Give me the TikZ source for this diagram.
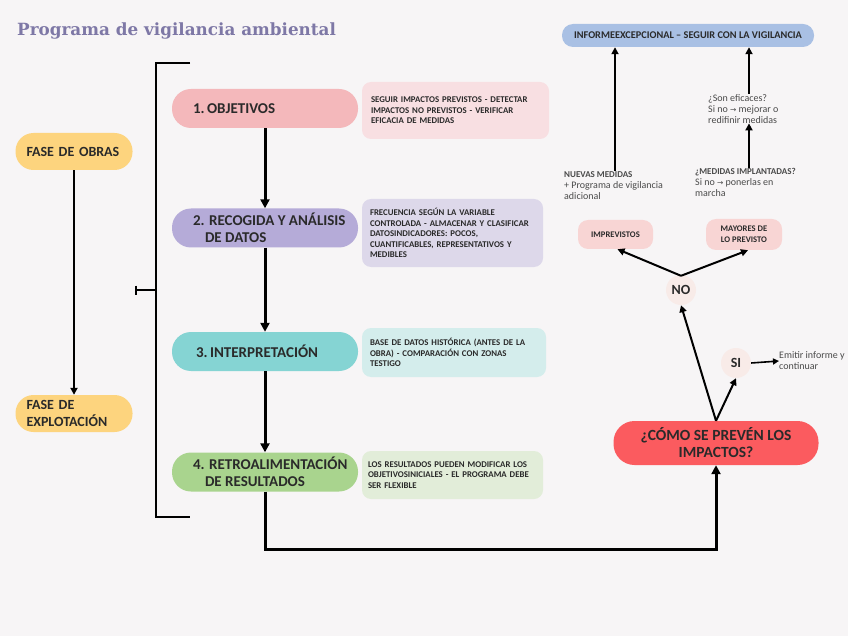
\documentclass[tikz,border=0pt]{standalone}
\usepackage{fontspec}
\setmainfont{Carlito}
\newfontfamily\titlefont{DejaVu Serif}
\newfontfamily\symfont{DejaVu Sans}
\usetikzlibrary{arrows.meta,calc}
\definecolor{bgc}{HTML}{F7F5F6}
\definecolor{titlec}{HTML}{7E78A6}
\definecolor{dark}{HTML}{2A2A2A}
\definecolor{yel}{HTML}{FDD47E}
\definecolor{pinkp}{HTML}{F4B8BB}
\definecolor{lavp}{HTML}{B5ABD8}
\definecolor{tealp}{HTML}{85D4D3}
\definecolor{greenp}{HTML}{A9D48E}
\definecolor{pinkb}{HTML}{F8DFE2}
\definecolor{lavb}{HTML}{DDD8EA}
\definecolor{tealb}{HTML}{D4EDEC}
\definecolor{greenb}{HTML}{E2EDD9}
\definecolor{redc}{HTML}{FB5B5F}
\definecolor{bluec}{HTML}{A9C0E4}
\definecolor{smallpink}{HTML}{F8D5D4}
\definecolor{circc}{HTML}{F8EBE8}
\newcommand{\arr}{{\symfont\fontsize{7.5}{7.5}\selectfont →}}
\newcommand{\lblf}{\bfseries\fontsize{9}{10}\selectfont}
\begin{document}
\begin{tikzpicture}[x=1pt,y=-1pt,
  pill/.style={rounded corners=19pt, minimum width=186pt, minimum height=39pt, inner sep=0},
  pilltext/.style={anchor=west, inner sep=0, align=left, font=\bfseries\fontsize{15}{16.5}\selectfont, text=dark},
  fase/.style={rounded corners=18pt, fill=yel, minimum width=117pt, minimum height=37pt, inner xsep=11pt, text width=95pt, align=left, font=\bfseries\fontsize{14}{16.5}\selectfont, text=dark},
  desc/.style={rounded corners=9pt, inner xsep=8pt, inner ysep=4pt, align=left, font=\bfseries\fontsize{8.8}{10.6}\selectfont, text=dark},
  small/.style={rounded corners=10pt, fill=smallpink, align=center, inner sep=0, font=\bfseries\fontsize{8.6}{11}\selectfont, text=dark},
  circ/.style={circle, fill=circc, minimum size=30pt, inner sep=0, font=\bfseries\fontsize{14}{15}\selectfont, text=dark},
  note/.style={align=left, inner sep=0, font=\fontsize{10}{11}\selectfont, text=dark!85},
  thick arrow/.style={line width=3pt, -{Triangle[length=9pt,width=9pt]}},
  arrow/.style={line width=2pt, -{Triangle[length=7pt,width=7pt]}}
]
\fill[bgc] (0,0) rectangle (848,636);
\useasboundingbox (0,0) rectangle (848,636);

\node[anchor=base west, inner sep=0, text=titlec, font=\titlefont\bfseries\fontsize{16.8}{18}\selectfont] (title) at (17,36) {Programa de vigilancia ambiental};

% fases
\node[fase] (obras) at (74,151.5) {FASE DE OBRAS};
\node[fase] (explot) at (74,413.5) {FASE DE\\EXPLOTACIÓN};
\draw[arrow] (obras.south) -- (explot.north);

% bracket
\draw[line width=2pt] (190,63) -- (156,63) -- (156,517) -- (190,517);
\draw[line width=1.6pt] (156,290) -- (136,290);
\draw[line width=1.6pt] (136,285.5) -- (136,294.5);

% pills
\node[pill, fill=pinkp] (p1) at (265,108.5) {};
\node[pill, fill=lavp] (p2) at (265,228) {};
\node[pill, fill=tealp] (p3) at (265,351.5) {};
\node[pill, fill=greenp] (p4) at (265,472) {};
\node[pilltext] (t1) at ($(p1.west)+(21,0)$) {1.\,OBJETIVOS};
\node[pilltext] (t2) at ($(p2.west)+(21,0)$) {2. RECOGIDA Y ANÁLISIS\\\hspace*{12pt}DE DATOS};
\node[pilltext] (t3) at ($(p3.west)+(24,0)$) {3.\,INTERPRETACIÓN};
\node[pilltext] (t4) at ($(p4.west)+(21,0)$) {4. RETROALIMENTACIÓN\\\hspace*{12pt}DE RESULTADOS};

\draw[thick arrow] (p1.south) -- (p2.north);
\draw[thick arrow] (p2.south) -- (p3.north);
\draw[thick arrow] (p3.south) -- (p4.north);

% description boxes
\node[desc, fill=pinkb, minimum width=187pt, minimum height=57pt, text width=169pt, inner xsep=9pt] (d1) at (455.5,110.5)
 {SEGUIR IMPACTOS PREVISTOS - DETECTAR\\IMPACTOS NO PREVISTOS - VERIFICAR\\EFICACIA DE MEDIDAS};
\node[desc, fill=lavb, minimum width=181pt, minimum height=68pt, text width=165pt] (d2) at (452.5,233)
 {FRECUENCIA SEGÚN LA VARIABLE\\CONTROLADA - ALMACENAR Y CLASIFICAR\\DATOSINDICADORES: POCOS,\\CUANTIFICABLES, REPRESENTATIVOS Y\\MEDIBLES};
\node[desc, fill=tealb, minimum width=184pt, minimum height=49pt, text width=168pt] (d3) at (454,352.5)
 {BASE DE DATOS HISTÓRICA (ANTES DE LA\\OBRA) - COMPARACIÓN CON ZONAS\\TESTIGO};
\node[desc, fill=greenb, minimum width=181pt, minimum height=48pt, text width=169pt, inner xsep=6pt] (d4) at (452.5,475)
 {LOS RESULTADOS PUEDEN MODIFICAR LOS\\OBJETIVOSINICIALES - EL PROGRAMA DEBE\\SER FLEXIBLE};

% right side
\node[rounded corners=11pt, fill=bluec, minimum width=252pt, minimum height=23pt, inner sep=0, font=\bfseries\fontsize{10.3}{11}\selectfont, text=dark] (informe) at (688,35.5)
 {INFORMEEXCEPCIONAL – SEGUIR CON LA VIGILANCIA};

\node[rounded corners=21pt, fill=redc, minimum width=205pt, minimum height=44pt, inner sep=0, align=center, font=\bfseries\fontsize{15.5}{17}\selectfont, text=dark] (como) at (716,443)
 {¿CÓMO SE PREVÉN LOS\\IMPACTOS?};

\node[circ] (no) at (681,290) {NO};
\node[circ] (si) at (736,363) {SI};

\node[small, minimum width=75pt, minimum height=29pt] (imprev) at (615.5,234.5) {IMPREVISTOS};
\node[small, minimum width=76pt, minimum height=31pt] (mayores) at (744,234.5) {MAYORES DE\\LO PREVISTO};

\node[note, anchor=north west] (nuevas) at (564,171)
 {{\lblf NUEVAS MEDIDAS}\\+ Programa de vigilancia\\adicional};
\node[note, anchor=north west] (medidas) at (695,168)
 {{\lblf ¿MEDIDAS IMPLANTADAS?}\\Si no \arr{} ponerlas en\\marcha};
\node[note, anchor=north west] (eficaces) at (708,94)
 {¿Son eficaces?\\Si no \arr{} mejorar o\\redifinir medidas};
\node[note, anchor=west] (emitir) at (779,361)
 {Emitir informe y\\continuar};

\draw[arrow] (nuevas.north west -| 615,0) -- (informe.south -| 615,0);
\draw[arrow] (medidas.north west -| 749,0) -- (eficaces.south -| 749,0);
\draw[arrow] (eficaces.north west -| 749,0) -- (informe.south -| 749,0);

\coordinate (noTop) at ($(no.north)+(0,1)$);
\draw[arrow] (noTop) -- ($(imprev.south)+(2,0)$);
\draw[arrow] (noTop) -- ($(mayores.south)+(4,0)$);

\draw[arrow] (como.north) -- (no.south);
\draw[arrow] (como.north) -- (si.south);
\draw[line width=1.6pt, -{Triangle[length=6pt,width=6pt]}] (si.east) -- (emitir.west);

\draw[thick arrow] (p4.south) -- (p4.south |- 0,549) -- (como.south |- 0,549) -- (como.south);
\end{tikzpicture}
\end{document}
